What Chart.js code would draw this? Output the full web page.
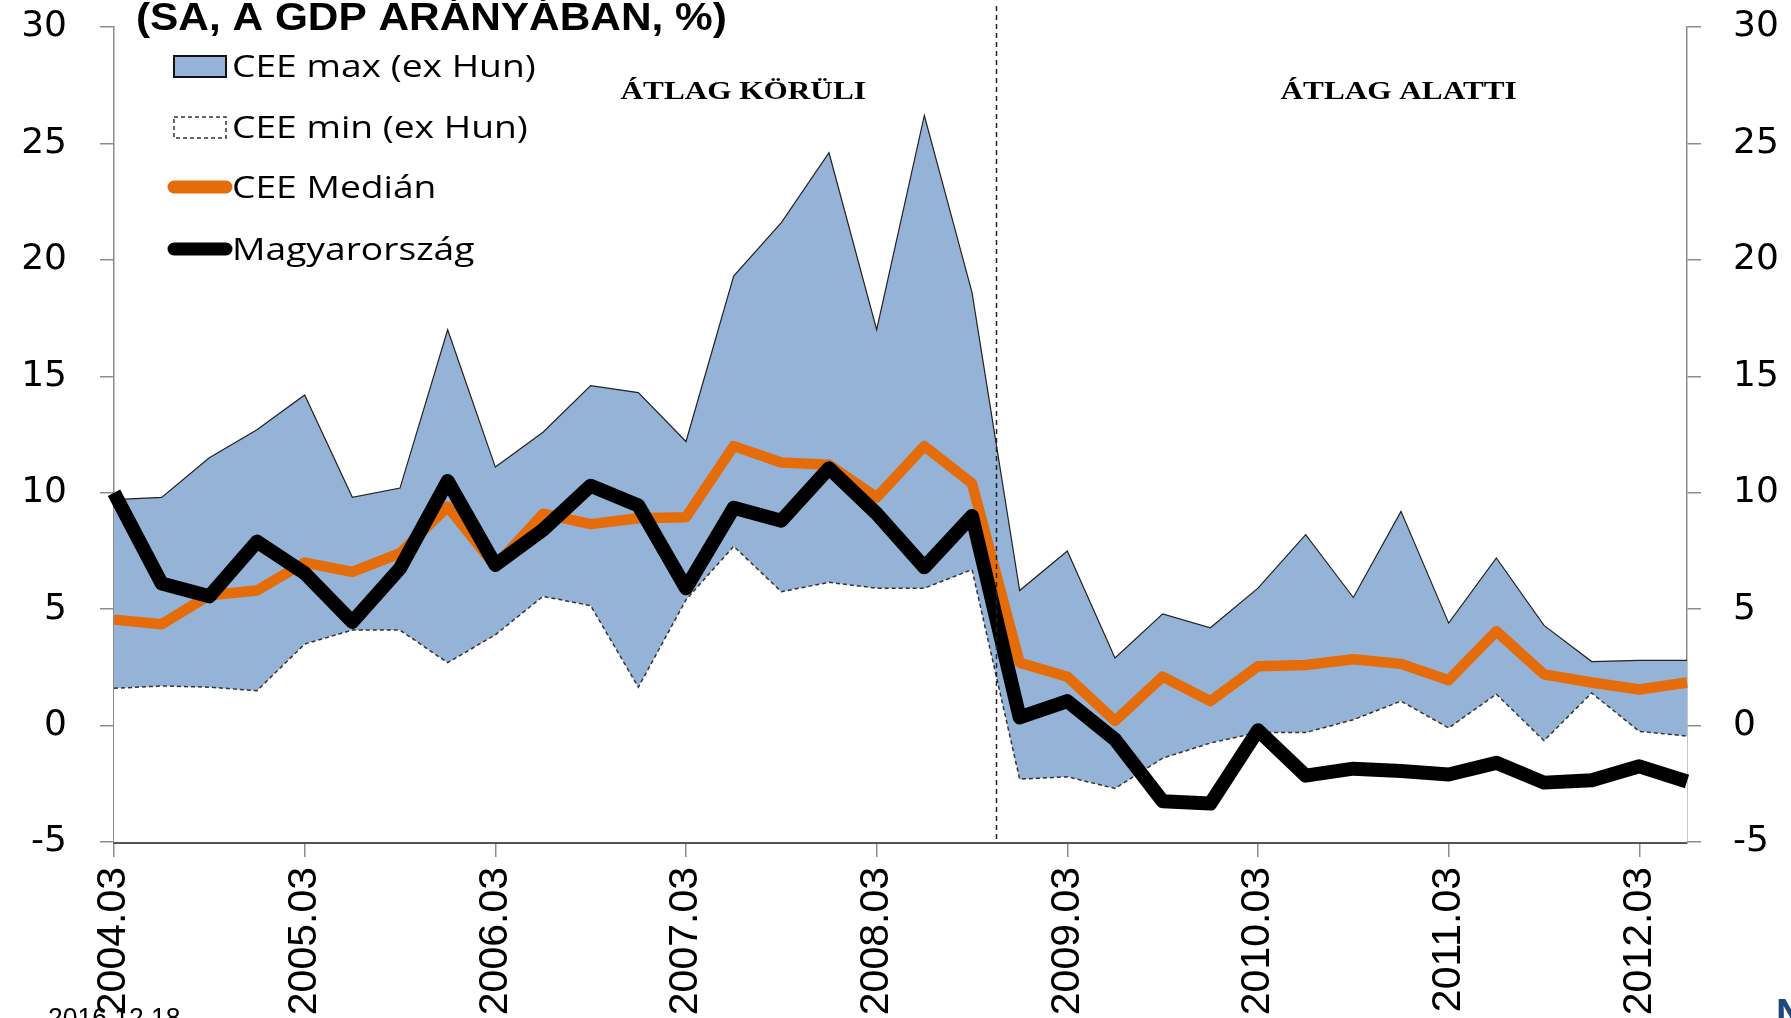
<!DOCTYPE html>
<html><head><meta charset="utf-8">
<script src="https://cdn.jsdelivr.net/npm/chart.js@4/dist/chart.umd.min.js"></script>
<style>html,body{margin:0;padding:0;background:#fff;overflow:hidden}canvas{display:block}</style>
</head><body>
<canvas id="c" width="1791" height="1018"></canvas>
<script>
// ---------- DATA ----------
const categories = [
  '2004.03','2004.06','2004.09','2004.12',
  '2005.03','2005.06','2005.09','2005.12',
  '2006.03','2006.06','2006.09','2006.12',
  '2007.03','2007.06','2007.09','2007.12',
  '2008.03','2008.06','2008.09','2008.12',
  '2009.03','2009.06','2009.09','2009.12',
  '2010.03','2010.06','2010.09','2010.12',
  '2011.03','2011.06','2011.09','2011.12',
  '2012.03','2012.06'
];
const ceeMax = [9.7, 9.8, 11.5, 12.7, 14.2, 9.8, 10.2, 17.0, 11.1, 12.6, 14.6, 14.3,
  12.2, 19.3, 21.6, 24.6, 17.0, 26.2, 18.6, 5.8, 7.5, 2.9, 4.8, 4.2,
  5.9, 8.2, 5.5, 9.2, 4.4, 7.2, 4.3, 2.75, 2.8, 2.8];
const ceeMin = [1.6, 1.7, 1.65, 1.5, 3.5, 4.1, 4.1, 2.7, 3.9, 5.55, 5.15, 1.65,
  5.4, 7.7, 5.75, 6.15, 5.9, 5.9, 6.7, -2.3, -2.2, -2.7, -1.4, -0.75,
  -0.3, -0.3, 0.25, 1.05, -0.1, 1.35, -0.65, 1.4, -0.25, -0.45];
const ceeMedian = [4.55, 4.35, 5.6, 5.8, 7.0, 6.6, 7.4, 9.4, 6.85, 9.1, 8.65, 8.9,
  8.95, 12.0, 11.3, 11.2, 9.8, 12.0, 10.4, 2.7, 2.1, 0.2, 2.1, 1.05,
  2.55, 2.6, 2.85, 2.65, 1.95, 4.05, 2.2, 1.85, 1.55, 1.85];
const hungary = [10.0, 6.1, 5.55, 7.9, 6.55, 4.45, 6.75, 10.5, 6.9, 8.4, 10.3, 9.45,
  5.9, 9.35, 8.8, 11.05, 9.1, 6.8, 9.0, 0.35, 1.05, -0.6, -3.25, -3.35,
  -0.2, -2.15, -1.85, -1.95, -2.1, -1.6, -2.45, -2.35, -1.75, -2.4];
const seriesNames = ['CEE max (ex Hun)', 'CEE min (ex Hun)', 'CEE Medián', 'Magyarország'];
const yMin = -5, yMax = 30, yStep = 5;
const titleText = '(SA, A GDP ARÁNYÁBAN, %)';
const regionLabels = ['ÁTLAG KÖRÜLI', 'ÁTLAG ALATTI'];
const regionCenters = [13.2, 26.95];   // category index positions
const breakIndex = 18.5;               // between 2008.09 and 2008.12
const dateText = '2016.12.18';

// ---------- STYLE ----------
const BLUE = '#95B3D7', ORANGE = '#E46C0A', BLACK = '#000000', AXIS = '#8c8c8c';

function stretchText(ctx, text, x, y, sx, align) {
  ctx.save();
  ctx.translate(x, y);
  ctx.scale(sx, 1);
  ctx.textAlign = align || 'left';
  ctx.fillText(text, 0, 0);
  ctx.restore();
}

const decor = {
  id: 'decor',
  beforeDraw(chart) {
    const c = chart.ctx;
    c.save(); c.fillStyle = '#fff'; c.fillRect(0, 0, chart.width, chart.height); c.restore();
  },
  afterDatasetsDraw(chart) {
    const c = chart.ctx, xs = chart.scales.x, area = chart.chartArea;
    const bx = Math.round(xs.getPixelForValue(breakIndex)) + 0.5;
    c.save();
    c.strokeStyle = '#222'; c.lineWidth = 1.5; c.setLineDash([5, 4]);
    c.beginPath(); c.moveTo(bx, 6); c.lineTo(bx, area.bottom); c.stroke();
    c.restore();
  },
  afterDraw(chart) {
    const c = chart.ctx, xs = chart.scales.x, ys = chart.scales.y;
    c.save();
    c.fillStyle = '#000';
    c.textBaseline = 'alphabetic';
    // title (clipped at top, as in the original slide)
    c.font = 'bold 38px "Liberation Sans", Arial, sans-serif';
    stretchText(c, titleText, 136, 30, 1.115, 'left');
    // regime labels
    c.font = 'bold 26px "Liberation Serif", "Times New Roman", serif';
    regionLabels.forEach((t, i) => {
      stretchText(c, t, xs.getPixelForValue(regionCenters[i]), ys.getPixelForValue(26.9), 1.2, 'center');
    });
    // legend
    const rows = [77, 138, 198, 260];
    const mx0 = 174, mx1 = 226, lx0 = 168, lx1 = 232, tx = 232;
    [0, 1, 2, 3].forEach((k, r) => {
      const d = chart.data.datasets.find(q => q.label === seriesNames[k]);
      const cy = rows[r] - 11;
      if (k === 0) {
        c.fillStyle = BLUE; c.fillRect(mx0, cy - 10, mx1 - mx0, 21);
        c.strokeStyle = '#111'; c.lineWidth = 2; c.setLineDash([]);
        c.strokeRect(mx0, cy - 10, mx1 - mx0, 21);
      } else if (k === 1) {
        c.fillStyle = '#fff'; c.fillRect(mx0, cy - 10, mx1 - mx0, 21);
        c.strokeStyle = '#333'; c.lineWidth = 1.5; c.setLineDash([4, 3]);
        c.strokeRect(mx0, cy - 10, mx1 - mx0, 21);
        c.setLineDash([]);
      } else {
        c.strokeStyle = d.borderColor; c.lineWidth = 13; c.lineCap = 'round';
        c.beginPath(); c.moveTo(lx0 + 6, cy); c.lineTo(lx1 - 6, cy); c.stroke();
      }
      c.fillStyle = '#000';
      c.font = '31px "Open Sans", "Noto Sans", sans-serif';
      stretchText(c, d.label, tx, rows[r], 1.2, 'left');
    });
    // footer date and logo fragment
    c.fillStyle = '#000';
    c.font = '27px "Liberation Sans", Arial, sans-serif';
    stretchText(c, dateText, 48, 1027, 0.98, 'left');
    c.fillStyle = '#1F497D';
    c.font = 'bold 40px "Liberation Sans", Arial, sans-serif';
    c.fillText('N', 1776, 1027);
    c.restore();
  }
};

const yScaleBase = (pos) => ({
  type: 'linear',
  position: pos,
  min: yMin, max: yMax,
  afterFit: (s) => {
    s.width = pos === 'left' ? 114 : 104;
    s.paddingTop = 0; s.paddingBottom = 0;
  },
  ticks: {
    stepSize: yStep,
    color: '#000',
    padding: pos === 'left' ? 33 : 32,
    font: { family: '"DejaVu Sans", sans-serif', size: 36 },
  },
  grid: { drawOnChartArea: false, drawTicks: true, tickLength: 14, color: AXIS, tickColor: AXIS, lineWidth: 1.5 },
  border: { display: true, color: AXIS, width: 1.5 }
});

new Chart(document.getElementById('c'), {
  type: 'line',
  data: {
    labels: categories,
    datasets: [
      { label: seriesNames[3], data: hungary, borderColor: BLACK, borderWidth: 14,
        pointRadius: 0, fill: false, order: 1, borderJoinStyle: 'round', tension: 0 },
      { label: seriesNames[2], data: ceeMedian, borderColor: ORANGE, borderWidth: 10.5,
        pointRadius: 0, fill: false, order: 2, borderJoinStyle: 'round', tension: 0 },
      { label: seriesNames[1], data: ceeMin, borderColor: '#333', borderWidth: 1.5, borderDash: [4, 3],
        backgroundColor: '#ffffff', pointRadius: 0, fill: 'start', order: 3, tension: 0 },
      { label: seriesNames[0], data: ceeMax, borderColor: '#222', borderWidth: 1.2,
        backgroundColor: BLUE, pointRadius: 0, fill: 'start', order: 4, tension: 0 }
    ]
  },
  options: {
    responsive: false,
    animation: false,
    devicePixelRatio: 1,
    layout: { padding: { top: 27, left: 0, right: 0, bottom: 0 } },
    plugins: { legend: { display: false }, tooltip: { enabled: false }, title: { display: false } },
    scales: {
      x: {
        type: 'category',
        offset: false,
        afterFit: (s) => { s.height = 176; s.paddingLeft = 0; s.paddingRight = 0; },
        ticks: {
          autoSkip: false, maxRotation: 90, minRotation: 90, padding: 10, color: '#000',
          font: { family: '"Liberation Sans", Arial, sans-serif', size: 41 },
          callback: (v, i) => (i % 4 === 0 ? categories[i] : '')
        },
        grid: {
          drawOnChartArea: false, drawTicks: true, tickLength: 15,
          color: (ctx) => (ctx.index % 4 === 0 ? AXIS : 'rgba(0,0,0,0)'),
          tickColor: (ctx) => (ctx.index % 4 === 0 ? AXIS : 'rgba(0,0,0,0)'),
          lineWidth: 1.5
        },
        border: { display: true, color: '#555', width: 3, dash: [3, 2] }
      },
      y: yScaleBase('left'),
      y2: yScaleBase('right')
    }
  },
  plugins: [decor]
});
</script>
</body></html>
